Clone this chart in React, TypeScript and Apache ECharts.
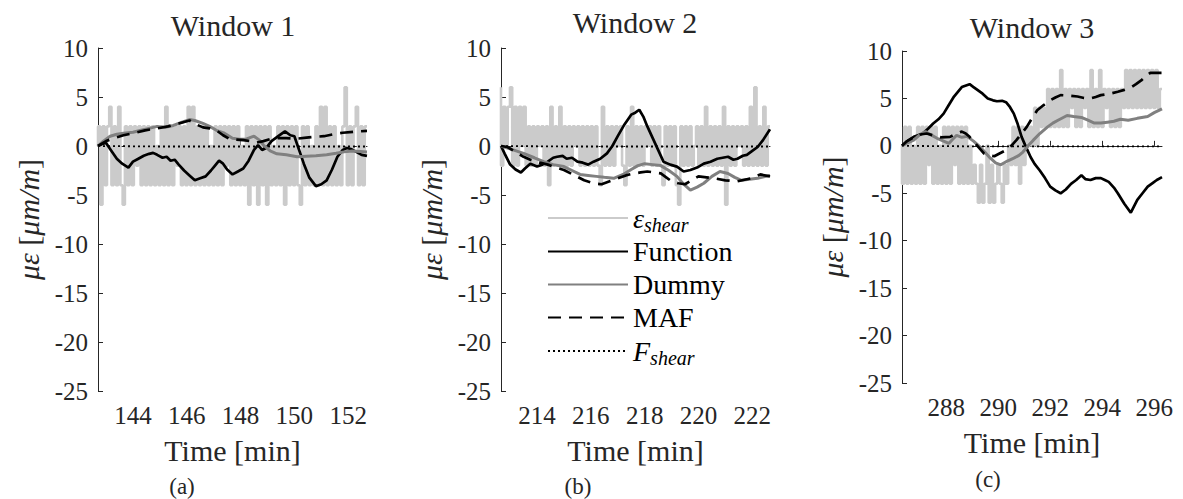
import React, { useEffect, useRef } from "react";
import * as echarts from "echarts";

const FONT = "Liberation Serif";
const INK = "#262626";

// ---------- data ----------
const panelTitles = ["Window 1", "Window 2", "Window 3"];
const panelTags = ["(a)", "(b)", "(c)"];
const xRanges = [
  [142.7, 152.7],
  [212.66, 222.66],
  [286.3, 296.3],
];
const xTicks1 = [144, 146, 148, 150, 152];
const xTicks2 = [214, 216, 218, 220, 222];
const xTicks3 = [288, 290, 292, 294, 296];

// raw shear strain, equally spaced samples across each window
const raw1 = [
  0, 2, -6, 2, -4, 2, 4, -4, 2, -4,
  4, -4, -6, 2, -4, 2, -4, 2, -2, 2,
  -4, 2, -4, 2, -4, 2, -4, 0, -4, 2,
  -4, 4, -4, 2, -4, 2, -2, 2, -4, 2,
  -4, 4, -4, 4, -4, 2, -4, 2, -4, 2,
  -4, 0, -4, 2, -4, 2, -4, 2, -2, 2,
  -4, 2, -4, 2, -4, 0, -4, 2, -6, 2,
  -4, 2, -6, 2, -4, 2, -6, 2, -4, 0,
  -4, 2, -4, 2, -6, 2, -4, 2, -4, 2,
  -4, -6, 2, -4, 2, -4, 0, -4, 2, -4,
  4, -4, 4, -4, 2, -4, 2, -4, 0, -4,
  2, 6, -4, 2, -4, 2, 4, -4, 2, -4,
  2,
];
const raw2 = [
  6, -2, 4, 0, 4, 6, -2, 4, -2, 4,
  0, 4, -2, 2, -2, 2, -2, 2, 0, 2,
  -2, 2, -4, 4, -2, 2, -2, 4, -2, 2,
  -2, 2, -2, 2, 0, 2, -2, 2, -2, 2,
  -2, 2, -2, 2, -2, -4, 4, -2, 2, -2,
  2, -2, 2, 0, 2, -2, -4, 2, -2, 4,
  -2, 2, -2, 2, -2, 2, 0, 2, -2, 2,
  -2, 2, -2, -4, 2, -2, 2, -2, 2, -4,
  -6, 2, -2, 2, -2, 2, -2, 0, 2, -2,
  2, -2, 4, -2, 2, -2, 2, -2, 2, -2,
  4, -6, 2, -2, 2, -2, 2, 0, 2, -2,
  2, -2, 4, -2, 6, -2, 2, -2, 4, -2,
  2,
];
const raw3 = [
  0, -4, 2, -4, 2, -4, 0, -4, 2, -4,
  2, -4, 2, -2, 2, -4, 2, -4, 0, -4,
  2, -4, 2, -4, 2, -2, 2, -4, 2, -4,
  2, -4, 0, -4, -2, -4, -6, -2, -6, -4,
  0, -6, -2, -6, -4, -2, -4, -6, -2, -4,
  0, -2, 2, -2, 2, -4, 2, -2, 2, 0,
  2, 0, 4, 0, 4, 2, 4, 2, 6, 2,
  6, 2, 6, 2, 8, 2, 6, 2, 6, 4,
  6, 2, 6, 2, 6, 4, 6, 2, 8, 2,
  6, 2, 8, 2, 6, 4, 6, 2, 6, 2,
  6, 2, 6, 4, 8, 4, 8, 4, 8, 4,
  8, 4, 8, 4, 8, 4, 8, 4, 8, 4,
  6,
];

const fn1 = [
  [142.7, 0], [142.85, 0.2], [143.0, 0.3], [143.2, -0.5], [143.4, -1.3], [143.6, -1.8], [143.83, -2.2],
  [144.0, -1.6], [144.2, -1.3], [144.4, -1.0], [144.6, -0.8], [144.75, -0.7], [144.9, -0.9], [145.1, -1.2],
  [145.25, -1.1], [145.4, -1.5], [145.55, -1.4], [145.7, -1.9], [145.9, -2.5], [146.1, -3.0], [146.3, -3.5],
  [146.5, -3.3], [146.7, -3.1], [146.9, -2.5], [147.05, -2.0], [147.2, -1.5], [147.35, -1.8], [147.5, -2.4],
  [147.7, -2.9], [147.9, -2.6], [148.1, -2.3], [148.3, -1.5], [148.5, -0.4], [148.65, 0.1], [148.8, -0.4],
  [148.95, -0.2], [149.15, 0.5], [149.4, 1.0], [149.65, 1.5], [149.85, 1.1], [150.0, 1.0], [150.2, -0.6],
  [150.35, -1.8], [150.55, -3.2], [150.8, -4.1], [151.0, -3.9], [151.2, -3.5], [151.4, -2.4], [151.6, -1.1],
  [151.8, -0.4], [151.95, -0.2], [152.1, -0.3], [152.3, -0.6], [152.5, -0.9], [152.7, -1.0],
];
const dum1 = [
  [142.7, 0], [142.9, 0.5], [143.15, 1.0], [143.4, 1.2], [143.65, 1.3], [144.0, 1.4], [144.3, 1.6],
  [144.6, 1.8], [144.9, 2.0], [145.2, 1.9], [145.5, 2.1], [145.8, 2.4], [146.1, 2.7], [146.3, 2.6],
  [146.6, 2.3], [146.85, 2.0], [147.1, 1.6], [147.4, 1.3], [147.7, 0.8], [147.95, 0.7], [148.2, 0.7],
  [148.5, 1.0], [148.7, 0.6], [148.85, 0.1], [149.1, -0.5], [149.35, -0.8], [149.7, -0.9], [150.1, -1.1],
  [150.45, -1.05], [150.8, -1.0], [151.2, -0.9], [151.55, -0.75], [151.85, -0.6], [152.15, -0.5],
  [152.45, -0.55], [152.7, -0.6],
];
const maf1 = [
  [142.7, 0], [143.0, 0.5], [143.3, 0.8], [143.65, 1.1], [144.0, 1.3], [144.45, 1.6], [144.9, 1.8],
  [145.3, 2.0], [145.7, 2.3], [146.1, 2.6], [146.35, 2.2], [146.6, 1.9], [146.85, 1.8], [147.1, 1.6],
  [147.35, 1.1], [147.6, 0.7], [147.85, 0.65], [148.1, 0.6], [148.35, 0.5], [148.6, 0.35], [148.85, 0.5],
  [149.1, 0.7], [149.4, 0.8], [149.7, 0.8], [150.1, 0.75], [150.45, 0.85], [150.8, 0.95], [151.1, 1.0],
  [151.45, 1.2], [151.8, 1.35], [152.2, 1.45], [152.7, 1.55],
];
const fsh1 = [[142.7, 0], [145.0, -0.05], [148.0, -0.05], [150.0, -0.05], [152.7, -0.05]];

const fn2 = [
  [212.66, 0], [212.8, -0.8], [213.0, -1.9], [213.2, -2.4], [213.4, -2.7], [213.55, -2.3], [213.75, -1.8],
  [214.0, -2.1], [214.2, -1.9], [214.4, -1.6], [214.6, -1.2], [214.75, -1.1], [214.95, -1.0], [215.1, -1.3],
  [215.3, -1.2], [215.5, -1.6], [215.7, -1.7], [215.9, -1.9], [216.1, -1.6], [216.35, -1.3], [216.6, -0.75],
  [216.8, 0.0], [217.0, 1.0], [217.25, 2.2], [217.5, 3.2], [217.65, 3.4], [217.8, 3.7], [217.95, 3.0],
  [218.1, 2.0], [218.3, 0.8], [218.5, -0.4], [218.7, -1.6], [218.95, -1.9], [219.2, -2.1], [219.45, -2.6],
  [219.7, -2.45], [219.95, -2.2], [220.2, -1.8], [220.45, -1.6], [220.7, -1.3], [220.9, -1.2], [221.1, -1.1],
  [221.3, -1.4], [221.45, -1.3], [221.65, -1.0], [221.8, -0.9], [222.0, -0.5], [222.2, -0.1], [222.4, 0.6],
  [222.66, 1.7],
];
const dum2 = [
  [212.66, 0], [213.0, -0.3], [213.5, -0.75], [213.9, -1.2], [214.25, -1.6], [214.6, -1.9], [215.0, -2.1],
  [215.3, -2.5], [215.6, -2.9], [215.9, -3.0], [216.2, -3.1], [216.5, -3.2], [216.85, -3.3], [217.2, -2.9],
  [217.5, -2.4], [217.75, -2.0], [218.0, -1.8], [218.3, -1.9], [218.6, -2.0], [218.9, -2.5], [219.2, -3.1],
  [219.45, -3.9], [219.7, -4.5], [219.95, -4.2], [220.2, -3.8], [220.5, -3.1], [220.8, -2.6], [221.1, -2.8],
  [221.35, -3.2], [221.6, -3.5], [221.9, -3.4], [222.2, -3.3], [222.66, -3.0],
];
const maf2 = [
  [212.66, 0], [212.9, -0.1], [213.2, -0.6], [213.5, -1.1], [213.75, -1.4], [214.1, -1.7], [214.4, -1.9],
  [214.7, -2.2], [215.0, -2.45], [215.4, -3.0], [215.75, -3.5], [216.1, -3.8], [216.4, -3.9], [216.7, -3.6],
  [217.0, -3.3], [217.3, -3.0], [217.6, -2.8], [217.85, -2.7], [218.1, -2.6], [218.35, -2.7], [218.6, -2.8],
  [218.8, -3.2], [219.0, -3.6], [219.25, -3.8], [219.5, -3.9], [219.75, -3.5], [220.0, -3.1], [220.3, -3.2],
  [220.6, -3.3], [221.0, -3.5], [221.45, -3.6], [221.95, -3.3], [222.3, -2.9], [222.66, -3.1],
];
const fsh2 = [[212.66, 0], [215.0, -0.05], [218.0, -0.05], [220.0, -0.05], [222.66, -0.05]];

const fn3 = [
  [286.3, 0], [286.5, 0.5], [286.75, 0.95], [287.1, 1.3], [287.3, 1.8], [287.5, 2.35], [287.7, 2.8],
  [287.9, 3.4], [288.1, 4.3], [288.3, 5.2], [288.45, 5.7], [288.6, 6.2], [288.9, 6.5], [289.05, 6.2],
  [289.2, 5.9], [289.4, 5.5], [289.6, 5.0], [289.8, 4.8], [289.95, 4.7], [290.15, 4.75], [290.3, 4.6],
  [290.45, 4.1], [290.6, 3.4], [290.75, 2.3], [290.9, 0.95], [291.05, 0.0], [291.25, -1.2], [291.4, -1.9],
  [291.6, -2.6], [291.8, -3.4], [292.0, -4.3], [292.2, -4.7], [292.4, -5.0], [292.6, -4.6], [292.8, -4.0],
  [293.0, -3.6], [293.2, -3.1], [293.35, -3.5], [293.55, -3.6], [293.75, -3.4], [293.95, -3.4], [294.1, -3.6],
  [294.25, -3.8], [294.45, -4.4], [294.6, -5.0], [294.85, -6.1], [295.1, -7.05], [295.35, -5.7], [295.55, -5.0],
  [295.75, -4.3], [295.95, -3.9], [296.1, -3.6], [296.3, -3.3],
];
const dum3 = [
  [286.3, 0], [286.5, 0.3], [286.75, 0.6], [287.0, 1.2], [287.2, 1.5], [287.45, 1.1], [287.65, 0.8],
  [287.9, 0.5], [288.1, 0.25], [288.25, 0.7], [288.4, 1.1], [288.6, 0.9], [288.8, 1.0], [289.05, 0.5],
  [289.3, -0.1], [289.5, -0.7], [289.7, -1.3], [289.9, -1.8], [290.1, -2.0], [290.35, -1.6], [290.6, -1.3],
  [290.8, -1.0], [290.95, -0.65], [291.15, 0.0], [291.35, 0.6], [291.6, 1.3], [291.9, 2.0], [292.1, 2.4],
  [292.3, 2.7], [292.65, 3.2], [292.9, 3.1], [293.2, 3.0], [293.45, 2.7], [293.7, 2.4], [293.95, 2.4],
  [294.2, 2.5], [294.45, 2.6], [294.7, 2.8], [295.0, 2.7], [295.35, 2.9], [295.75, 3.1], [296.0, 3.5],
  [296.3, 3.9],
];
const maf3 = [
  [286.3, 0], [286.5, 0.5], [286.75, 0.9], [287.0, 1.2], [287.25, 1.3], [287.5, 1.1], [287.8, 0.9],
  [288.15, 0.95], [288.4, 1.3], [288.6, 1.5], [288.75, 1.3], [288.9, 0.95], [289.2, 0.0], [289.45, -0.8],
  [289.65, -1.0], [289.85, -1.1], [290.05, -0.8], [290.3, -0.45], [290.5, 0.0], [290.7, 0.6], [290.9, 1.3],
  [291.1, 2.0], [291.3, 2.9], [291.5, 3.75], [291.75, 4.3], [292.0, 4.8], [292.2, 5.1], [292.4, 5.35],
  [292.7, 5.3], [293.05, 5.2], [293.3, 5.05], [293.55, 5.0], [293.75, 5.15], [293.95, 5.35], [294.3, 5.5],
  [294.6, 5.7], [294.85, 5.9], [295.1, 6.15], [295.3, 6.5], [295.5, 6.9], [295.7, 7.4], [295.85, 7.7],
  [296.05, 7.7], [296.3, 7.7],
];
const fsh3 = [[286.3, 0], [289.0, -0.05], [292.0, -0.05], [294.0, -0.05], [296.3, -0.05]];

const seriesNames = ["eps", "Function", "Dummy", "MAF", "Fshear"];

// ---------- layout ----------
const grids = [
  { left: 98, top: 48, width: 269, height: 343 },
  { left: 501, top: 48, width: 269, height: 343 },
  { left: 902, top: 51, width: 260, height: 332 },
];
const titlePos = [
  [233, 25],
  [635, 22],
  [1032, 27],
];
const tagPos = [
  [182, 486],
  [578, 486],
  [988, 479],
];

function rawToPairs(raw: number[], range: number[]) {
  const dt = (range[1] - range[0]) / (raw.length - 1);
  return raw.map((v, i) => [range[0] + i * dt, v]);
}

export default function App() {
  const ref = useRef<HTMLDivElement>(null);
  useEffect(() => {
    if (!ref.current) return;
    const chart = echarts.init(ref.current, null, { renderer: "svg" });
    const raws = [raw1, raw2, raw3];
    const fns = [fn1, fn2, fn3];
    const dums = [dum1, dum2, dum3];
    const mafs = [maf1, maf2, maf3];
    const fshs = [fsh1, fsh2, fsh3];
    const ticks = [xTicks1, xTicks2, xTicks3];

    const xAxis: any[] = [];
    const yAxis: any[] = [];
    const series: any[] = [];
    for (let p = 0; p < 3; p++) {
      xAxis.push({
        type: "value",
        gridIndex: p,
        min: xRanges[p][0],
        max: xRanges[p][1],
        axisLine: { show: true, lineStyle: { color: INK, width: 1 } },
        axisTick: { show: true, inside: true, length: 5, lineStyle: { color: INK }, customValues: ticks[p] },
        axisLabel: {
          customValues: ticks[p],
          fontFamily: FONT,
          fontSize: 25,
          color: INK,
          margin: 12,
        },
        splitLine: { show: false },
        name: "Time [min]",
        nameLocation: "middle",
        nameGap: 44,
        nameTextStyle: { fontFamily: FONT, fontSize: 30, color: INK },
      });
      yAxis.push({
        type: "value",
        gridIndex: p,
        min: -25,
        max: 10,
        interval: 5,
        axisLine: { show: true, lineStyle: { color: INK, width: 1 } },
        axisTick: { show: true, inside: true, length: 5, lineStyle: { color: INK } },
        axisLabel: { fontFamily: FONT, fontSize: 25, color: INK, margin: 10 },
        splitLine: { show: false },
        name: "{i|με} {u|[}{i|μm/m}{u|]}",
        nameLocation: "middle",
        nameRotate: 90,
        nameGap: 55,
        nameTextStyle: {
          color: INK,
          fontFamily: FONT,
          fontSize: 30,
          rich: {
            i: { fontFamily: FONT, fontSize: 30, fontStyle: "italic", color: INK },
            u: { fontFamily: FONT, fontSize: 30, color: INK },
          },
        },
      });
      series.push(
        {
          name: seriesNames[0],
          type: "line",
          xAxisIndex: p,
          yAxisIndex: p,
          step: "start",
          symbol: "none",
          data: rawToPairs(raws[p], xRanges[p]),
          lineStyle: { color: "#cbcbcb", width: 2.6 },
          itemStyle: { color: "#cbcbcb" },
          z: 1,
        },
        {
          name: seriesNames[1],
          type: "line",
          xAxisIndex: p,
          yAxisIndex: p,
          symbol: "none",
          data: fns[p],
          lineStyle: { color: "#000000", width: 2.7 },
          itemStyle: { color: "#000000" },
          z: 3,
        },
        {
          name: seriesNames[2],
          type: "line",
          xAxisIndex: p,
          yAxisIndex: p,
          symbol: "none",
          data: dums[p],
          lineStyle: { color: "#808080", width: 3 },
          itemStyle: { color: "#808080" },
          z: 3,
        },
        {
          name: seriesNames[3],
          type: "line",
          xAxisIndex: p,
          yAxisIndex: p,
          symbol: "none",
          data: mafs[p],
          lineStyle: { color: "#000000", width: 2.7, type: [13, 8] },
          itemStyle: { color: "#000000" },
          z: 4,
        },
        {
          name: seriesNames[4],
          type: "line",
          xAxisIndex: p,
          yAxisIndex: p,
          symbol: "none",
          data: fshs[p],
          lineStyle: { color: "#000000", width: 1.8, type: [2, 3] },
          itemStyle: { color: "#000000" },
          z: 2,
        }
      );
    }

    const graphic: any[] = [];
    for (let p = 0; p < 3; p++) {
      graphic.push({
        type: "text",
        x: titlePos[p][0],
        y: titlePos[p][1],
        style: {
          text: panelTitles[p],
          fontFamily: FONT,
          fontSize: 30,
          fill: INK,
          textAlign: "center",
          textVerticalAlign: "middle",
        },
      });
      graphic.push({
        type: "text",
        x: tagPos[p][0],
        y: tagPos[p][1],
        style: {
          text: panelTags[p],
          fontFamily: FONT,
          fontSize: 23,
          fill: INK,
          textAlign: "center",
          textVerticalAlign: "middle",
        },
      });
    }

    chart.setOption({
      animation: false,
      backgroundColor: "#ffffff",
      grid: grids,
      xAxis,
      yAxis,
      series,
      graphic,
      legend: {
        left: 542,
        top: 196,
        orient: "vertical",
        itemWidth: 80,
        itemHeight: 14,
        itemGap: 0,
        selectedMode: false,
        data: seriesNames,
        itemStyle: { opacity: 0 },
        formatter: (name: string) => {
          if (name === "eps") return "{i|ε}{s|shear}";
          if (name === "Fshear") return "{i|F}{s|shear}";
          return "{n|" + name + "}";
        },
        textStyle: {
          color: "#000",
          fontFamily: FONT,
          fontSize: 28,
          lineHeight: 33,
          rich: {
            n: { fontFamily: FONT, fontSize: 28, lineHeight: 33, color: "#000" },
            i: { fontFamily: FONT, fontSize: 28, fontStyle: "italic", lineHeight: 33, color: "#000" },
            s: {
              fontFamily: FONT,
              fontSize: 20,
              fontStyle: "italic",
              lineHeight: 33,
              color: "#000",
              padding: [14, 0, 0, 0],
            },
          },
        },
      },
    });
    return () => chart.dispose();
  }, []);
  return (
    <div
      ref={ref}
      style={{ position: "absolute", left: 0, top: 0, width: 1183, height: 499, background: "#fff" }}
    />
  );
}
